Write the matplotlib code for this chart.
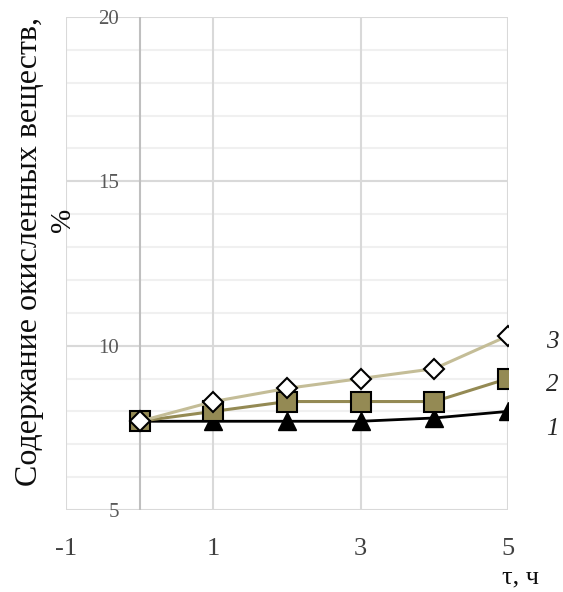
import numpy as np
import matplotlib.pyplot as plt

plt.rcParams['font.family'] = ['Liberation Serif', 'DejaVu Serif']

# Время, ч
t = [0, 1, 2, 3, 4, 5]
# Содержание окисленных веществ, %
series_1 = [7.7, 7.7, 7.7, 7.7, 7.8, 8.0]
series_2 = [7.7, 8.0, 8.3, 8.3, 8.3, 9.0]
series_3 = [7.7, 8.3, 8.7, 9.0, 9.3, 10.3]
series_names = ['1', '2', '3']

x_ticks = [-1, 1, 3, 5]
y_ticks = [5, 10, 15, 20]

fig = plt.figure(figsize=(5.63, 5.92), dpi=100)
ax = fig.add_axes([66 / 563, 82 / 592, 442 / 563, 493 / 592])

ax.set_xlim(-1, 5)
ax.set_ylim(5, 20)

# сетка
for y in np.arange(6, 20, 1):
    ax.axhline(y, color='#F0F0F0', lw=1.5, zorder=0)
for y in y_ticks:
    ax.axhline(y, color='#D9D9D9', lw=1.5, zorder=0.5)
for x in x_ticks:
    ax.axvline(x, color='#D9D9D9', lw=1.5, zorder=0.5)
ax.axvline(0, color='#BFBFBF', lw=1.5, zorder=0.6)

for s in ax.spines.values():
    s.set_visible(False)

# серии
ax.plot(t, series_1, color='black', lw=2, marker='^', ms=13,
        mfc='black', mec='black', zorder=3)
ax.plot(t, series_2, color='#948A54', lw=2.2, marker='s', ms=14,
        mfc='#948A54', mec='black', mew=1.5, zorder=4)
ax.plot(t, series_3, color='#C4BD97', lw=2.2, marker='D', ms=10,
        mfc='white', mec='black', mew=1.5, zorder=5)

offsets = [-12.5, -5, -4.5]
for name, ys, dy in zip(series_names, [series_1, series_2, series_3], offsets):
    ax.annotate(name, xy=(t[-1], ys[-1]), xytext=(32, dy), textcoords='offset points',
                ha='center', va='center', fontsize=18, style='italic',
                color='#262626', annotation_clip=False)

# оси
ax.set_xticks(x_ticks)
ax.set_xticklabels([str(v) for v in x_ticks], fontsize=19, color='#404040')
ax.tick_params(axis='x', length=0, pad=20)
ax.set_yticks(y_ticks)
ax.set_yticklabels([str(v) for v in y_ticks], fontsize=15, color='#595959')
ax.tick_params(axis='y', length=0, pad=-38)

fig.text(30 / 563, 1 - 252 / 592, 'Содержание окисленных веществ,', rotation=90,
         ha='center', va='center', fontsize=23, color='#0D0D0D')
fig.text(63 / 563, 1 - 220 / 592, '%', rotation=90,
         ha='center', va='center', fontsize=21, color='#0D0D0D')
fig.text(520 / 563, 1 - 577 / 592, 'τ, ч', ha='center', va='center',
         fontsize=19, color='#0D0D0D')

fig.savefig('out.png', dpi=100)
